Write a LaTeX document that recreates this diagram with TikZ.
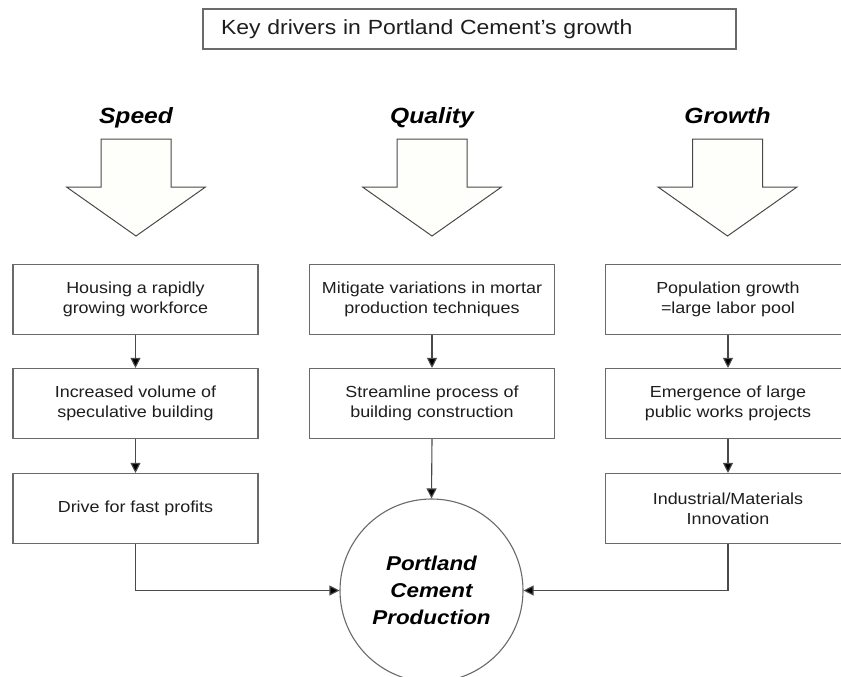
\documentclass[tikz,border=0pt]{standalone}
\usepackage{fontspec}
\setmainfont[FakeStretch=1.12]{Liberation Sans}
\usetikzlibrary{arrows.meta}
\definecolor{linegray}{HTML}{4A4A4A}
\definecolor{boxgray}{HTML}{6A6A6A}
\definecolor{arrowfill}{HTML}{FEFEFA}
\definecolor{textgray}{HTML}{1E1E1E}
\tikzset{
  stepbox/.style={draw=boxgray, line width=1.1pt, fill=white, minimum width=245pt, minimum height=70pt,
    inner sep=0pt, align=center, text=textgray, font=\fontsize{16}{20}\selectfont},
  conn/.style={draw=linegray, line width=1.1pt, -{Triangle[length=10pt,width=10pt,fill=black]}},
  drvlabel/.style={font=\fontsize{22}{26}\selectfont\bfseries\itshape, inner sep=0pt, anchor=base},
  bigarrow/.style={draw=linegray, line width=1pt, fill=arrowfill, line join=miter},
}
\begin{document}
\begin{tikzpicture}[x=1pt,y=-1pt]
\useasboundingbox (0,0) rectangle (841,677);
\clip (0,0) rectangle (841,677);
\fill[white] (0,0) rectangle (841,677);

% title
\node[draw=boxgray, line width=1.1pt, minimum width=533pt, minimum height=40pt,
  text width=497pt, inner xsep=18pt, align=left, text=textgray, font=\fontsize{20.5}{24}\selectfont]
  (title) at (469.5,29) {Key drivers in Portland Cement’s growth};

% driver labels
\node[drvlabel] (speed) at (136,124) {Speed};
\node[drvlabel] (quality) at (432,124) {Quality};
\node[drvlabel] (growth) at (727.5,124) {Growth};

% big arrows
\foreach \cx in {136,432,727.5}{
  \draw[bigarrow] (\cx-35,139) -- (\cx+35,139) -- (\cx+35,187) -- (\cx+69.5,187)
    -- (\cx,236) -- (\cx-69.5,187) -- (\cx-35,187) -- cycle;
}

% left column
\node[stepbox] (L1) at (135.5,299.5) {Housing a rapidly\\growing workforce};
\node[stepbox] (L2) at (135.5,403.5) {Increased volume of\\speculative building};
\node[stepbox] (L3) at (135.5,508.5) {Drive for fast profits};

% middle column
\node[stepbox] (M1) at (432,299.5) {Mitigate variations in mortar\\production techniques};
\node[stepbox] (M2) at (432,403.5) {Streamline process of\\building construction};

% right column
\node[stepbox] (R1) at (728,299.5) {Population growth\\=large labor pool};
\node[stepbox] (R2) at (728,403.5) {Emergence of large\\public works projects};
\node[stepbox] (R3) at (728,508.5) {Industrial/Materials\\Innovation};

% circle
\node[circle, draw=boxgray, line width=1.1pt, fill=white, minimum size=183pt, inner sep=0pt,
  align=center, font=\fontsize{20}{27}\selectfont\bfseries\itshape]
  (circ) at (431.5,590.5) {Portland\\Cement\\Production};

% connectors
\draw[conn] (L1.south) -- (L2.north);
\draw[conn] (L2.south) -- (L3.north);
\draw[conn] (M1.south) -- (M2.north);
\draw[conn] (R1.south) -- (R2.north);
\draw[conn] (R2.south) -- (R3.north);
\draw[conn] (M2.south) -- (circ.north);
\draw[conn] (L3.south) |- (circ.west);
\draw[conn] (R3.south) |- (circ.east);
\end{tikzpicture}
\end{document}
